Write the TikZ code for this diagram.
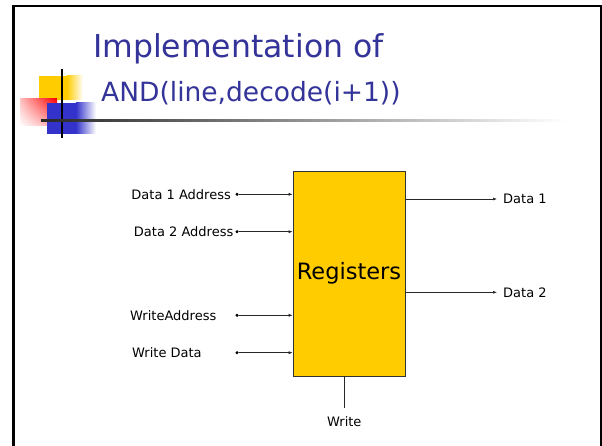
\documentclass[tikz,border=0pt]{standalone}
\usepackage{fontspec}
\setmainfont{DejaVu Sans}
\usetikzlibrary{arrows.meta,shadings}

\definecolor{titleblue}{RGB}{51,51,153}
\definecolor{regyellow}{RGB}{255,204,0}
\definecolor{logoblue}{RGB}{51,51,204}

\begin{document}
\begin{tikzpicture}[x=1pt,y=-1pt,
		sig/.style={-{Latex[length=4pt,width=3pt]}, line width=0.6pt, black!85},
		pin/.style={circle, fill=black, inner sep=0pt, minimum size=3.4pt},
		lbl/.style={font=\fontsize{13}{15}\selectfont, inner sep=0pt},
		headline/.style={text=titleblue, inner sep=0pt, anchor=base west},
		regbox/.style={draw=black!80, line width=0.7pt, fill=regyellow,
			minimum width=112pt, minimum height=205pt, inner sep=0pt,
			font=\fontsize{22.5}{26}\selectfont}]
	\useasboundingbox (0,0) rectangle (602,446);
	\fill[white] (0,0) rectangle (602,446);

	% Draw the slide frame
	\draw[line width=3pt] (13.5,447) -- (13.5,6);
	\draw[line width=2pt] (12,6) -- (601,6) -- (601,447);

	% Draw the logo squares
	\fill[regyellow] (39,76) rectangle (67,100);
	\shade[left color=regyellow, right color=white] (66.8,76) rectangle (83,100);
	\shade[upper right=red, upper left=red!25, lower right=red!35, lower left=white]
		(20,99) rectangle (57,126);
	\fill[logoblue] (47,103) rectangle (76,134);
	\shade[left color=logoblue, right color=white] (75.8,103) rectangle (96,134);
	\draw[line width=1.5pt] (62,69) -- (62,138);
	\shade[left color=black!85, middle color=black!40, right color=white]
		(41,120) rectangle (566,122);

	% Title
	\node[headline, font=\fontsize{31.5}{36}\selectfont] (head1) at (93,57.5) {Implementation of};
	\node[headline, font=\fontsize{26.5}{30}\selectfont] (head2) at (101,101.5) {AND(line,decode(i+1))};

	% Register file
	\node[regbox] (regs) at (349,273.5) {Registers};

	% Inputs
	\node[pin] (pa) at (237,194.3) {};
	\node[pin] (pb) at (237,231.7) {};
	\node[pin] (pc) at (237,315.3) {};
	\node[pin] (pd) at (237,352.7) {};
	\draw[sig] (pa) -- (pa -| regs.west);
	\draw[sig] (pb) -- (pb -| regs.west);
	\draw[sig] (pc) -- (pc -| regs.west);
	\draw[sig] (pd) -- (pd -| regs.west);
	\node[lbl, anchor=east] (ina) at (231,194.3) {Data 1 Address};
	\node[lbl, anchor=east] (inb) at (233.5,231.7) {Data 2 Address};
	\node[lbl, anchor=west] (inc) at (130,315.3) {WriteAddress};
	\node[lbl, anchor=west] (ind) at (132,352.7) {Write Data};

	% Outputs
	\coordinate (oa) at (497,199);
	\coordinate (ob) at (497,292.3);
	\draw[sig] (oa -| regs.east) -- (oa);
	\draw[sig] (ob -| regs.east) -- (ob);
	\node[lbl, anchor=west] (outa) at (503,199) {Data 1};
	\node[lbl, anchor=west] (outb) at (503,292.3) {Data 2};

	% Write enable
	\coordinate (we) at (344.3,408);
	\draw[line width=0.6pt, black!85] (we |- regs.south) -- (we);
	\node[lbl] (wlbl) at (344.3,421.5) {Write};
\end{tikzpicture}
\end{document}
